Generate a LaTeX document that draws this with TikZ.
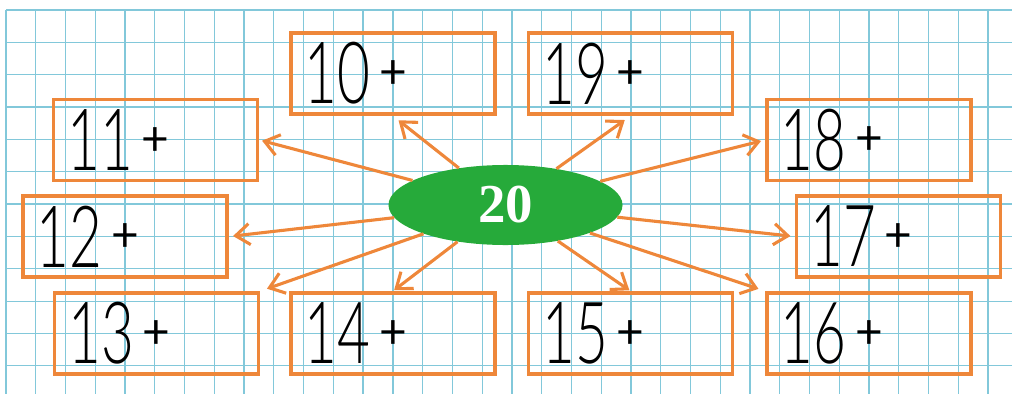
\documentclass[tikz,border=0pt]{standalone}
\usepackage{fontspec}
\usepackage{graphicx}
\IfFontExistsTF{Lato Light}
  {\newfontfamily\digitfont{Lato Light}\newfontfamily\plusfont{Lato}\newcommand{\digitscale}{0.66}}
  {\newfontfamily\digitfont{Liberation Sans}\newfontfamily\plusfont{Liberation Sans}\newcommand{\digitscale}{0.58}}
\newfontfamily\hubfont{Liberation Serif}
\usetikzlibrary{arrows.meta,positioning,shapes.geometric}
\definecolor{wbgrid}{RGB}{130,200,218}
\definecolor{wborange}{RGB}{238,135,58}
\definecolor{wbgreen}{RGB}{38,170,58}
\newcommand{\sumtask}[1]{{\fontsize{61}{61}\selectfont\scalebox{\digitscale}[1]{#1}}\hspace{6pt}\raisebox{11pt}{\plusfont\fontsize{34}{34}\selectfont +}}
\tikzset{
  gridline/.style={draw=wbgrid, line width=0.9pt},
  taskbox/.style={draw=wborange, line width=2.6pt, minimum width=5.1cm,
                  minimum height=2.03cm, text width=4.4cm, inner xsep=0.35cm,
                  inner ysep=0pt, align=left, font=\digitfont},
  hub/.style={ellipse, fill=wbgreen, minimum width=5.85cm, minimum height=2cm,
              inner sep=0pt, text=white, font=\hubfont\bfseries\fontsize{39}{39}\selectfont},
  ray/.style={draw=wborange, line width=2.2pt, -{Straight Barb[length=10pt,width=15pt]}},
}

\begin{document}
\begin{tikzpicture}[x=0.025cm, y=-0.025cm]
\useasboundingbox (0,0) rectangle (1012,394);

% squared paper
\foreach \i in {0,...,33}
  \draw[gridline] (6+29.76*\i,10) -- (6+29.76*\i,394);
\foreach \j in {0,...,11}
  \draw[gridline] (6,10+32.35*\j) -- (1012,10+32.35*\j);

% top row
\node[taskbox] (b10) at (393,73.5) {\sumtask{10}};
\node[taskbox] (b19) at (630.5,73.5) {\sumtask{19}};

% side boxes
\node[taskbox] (b11) at (155.5,140) {\sumtask{11}};
\node[taskbox] (b18) at (869,140) {\sumtask{18}};
\node[taskbox] (b12) at (125,236.5) {\sumtask{12}};
\node[taskbox] (b17) at (898.5,236.5) {\sumtask{17}};

% bottom row
\node[taskbox] (b13) at (156.5,333.5) {\sumtask{13}};
\node[taskbox] (b14) at (393,333.5) {\sumtask{14}};
\node[taskbox] (b15) at (630.5,333.5) {\sumtask{15}};
\node[taskbox] (b16) at (869,333.5) {\sumtask{16}};

% centre
\node[hub] (hub) at (505.5,205) {20};

% rays
\draw[ray, shorten >=5pt] (hub) -- (b10.south);
\draw[ray, shorten >=5pt] (hub) -- (b19.south);
\draw[ray, shorten >=2pt] (hub) -- (b11.east);
\draw[ray, shorten >=3pt] (hub) -- (b18.west);
\draw[ray, shorten >=3pt] (hub) -- (b12.east);
\draw[ray, shorten >=3pt] (hub) -- (b17.west);
\draw[ray, shorten >=5pt] (hub) -- (b13.north east);
\draw[ray, shorten >=1pt] (hub) -- (b14.north);
\draw[ray, shorten >=1pt] (hub) -- (b15.north);
\draw[ray, shorten >=5pt] (hub) -- (b16.north west);

\end{tikzpicture}
\end{document}
